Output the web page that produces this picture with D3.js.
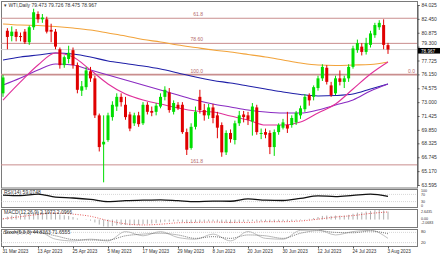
<!DOCTYPE html>
<html>
<head>
<meta charset="utf-8">
<script src="https://cdn.jsdelivr.net/npm/d3@7"></script>
<style>
  body { margin: 0; background: #fff; }
  svg { display: block; }
  text { font-family: "Liberation Sans", Arial, sans-serif; }
</style>
</head>
<body>
<svg id="chart"></svg>
<script>
// bars (trading days)
const dates = ["31 Mar","3 Apr","4 Apr","5 Apr","6 Apr","10 Apr","11 Apr","12 Apr","13 Apr","14 Apr",
  "17 Apr","18 Apr","19 Apr","20 Apr","21 Apr","24 Apr","25 Apr","26 Apr","27 Apr","28 Apr",
  "1 May","2 May","3 May","4 May","5 May","8 May","9 May","10 May","11 May","12 May",
  "15 May","16 May","17 May","18 May","19 May","22 May","23 May","24 May","25 May","26 May",
  "29 May","30 May","31 May","1 Jun","2 Jun","5 Jun","6 Jun","7 Jun","8 Jun","9 Jun",
  "12 Jun","13 Jun","14 Jun","15 Jun","16 Jun","19 Jun","20 Jun","21 Jun","22 Jun","23 Jun",
  "26 Jun","27 Jun","28 Jun","29 Jun","30 Jun","3 Jul","4 Jul","5 Jul","6 Jul","7 Jul",
  "10 Jul","11 Jul","12 Jul","13 Jul","14 Jul","17 Jul","18 Jul","19 Jul","20 Jul","21 Jul",
  "24 Jul","25 Jul","26 Jul","27 Jul","28 Jul","31 Jul","1 Aug","2 Aug","3 Aug"];

const open = [74.0,81.1,80.5,81.0,80.5,81.0,79.8,81.5,83.0,82.4,
  82.4,81.2,81.0,79.0,77.2,77.9,78.9,77.2,74.3,74.7,
  76.5,75.7,71.5,68.2,68.7,71.3,72.5,73.6,72.7,71.6,
  70.6,71.5,70.6,72.7,72.0,71.9,72.5,73.6,74.1,71.9,
  72.7,72.7,69.6,67.8,70.2,73.6,72.1,71.5,72.4,71.5,
  70.4,67.3,69.5,68.7,70.6,71.6,71.5,70.8,72.4,69.4,
  69.6,69.5,67.9,69.6,70.1,70.4,70.4,70.7,71.5,72.2,
  73.8,73.6,74.6,75.7,76.9,74.9,74.0,75.7,75.3,75.7,
  77.0,78.9,79.3,78.7,79.5,80.6,81.5,81.75,79.473];
const high = [76.1,81.4,81.6,81.3,80.9,81.3,81.7,83.6,83.3,83.0,
  82.7,81.9,81.3,79.2,78.3,79.4,79.2,77.5,75.4,77.0,
  77.0,76.0,71.7,71.5,71.8,73.1,74.0,74.0,73.6,71.9,
  71.8,71.9,73.0,73.0,72.5,72.9,74.0,74.8,74.6,73.2,
  73.0,73.0,70.0,70.6,72.5,74.4,72.8,72.8,72.8,71.9,
  70.7,69.8,69.9,70.9,72.0,72.0,71.9,72.9,72.7,70.0,
  70.0,69.8,69.9,70.6,71.1,71.9,71.5,72.0,72.6,73.9,
  74.0,74.9,76.0,77.3,77.2,75.3,76.0,76.6,76.0,77.3,
  79.4,80.1,79.7,80.3,81.1,82.0,82.3,82.4,79.726];
const low = [73.6,79.0,79.9,79.9,79.9,79.6,79.5,81.2,82.0,82.0,
  80.8,79.8,79.0,76.8,76.9,77.4,76.8,74.0,73.7,74.4,
  75.3,71.2,67.4,63.9,68.5,70.9,72.0,72.5,71.0,69.7,
  70.3,70.2,70.4,71.6,71.4,71.5,72.3,73.2,71.8,71.6,
  72.1,69.4,67.0,67.6,69.9,71.7,70.9,71.1,70.6,68.9,
  66.8,67.0,68.4,68.2,70.3,70.7,70.4,69.2,69.3,68.8,
  68.9,67.1,66.9,69.3,69.9,69.5,70.1,70.4,71.1,71.9,
  72.6,73.2,74.3,75.4,75.0,73.6,73.8,74.9,74.6,75.3,
  76.8,78.6,78.3,78.4,79.2,80.3,81.2,79.0,78.475];
const close = [75.8,80.4,81.0,80.4,80.4,79.8,81.5,83.2,82.4,82.6,
  81.0,81.0,79.3,77.2,78.1,78.6,77.2,74.4,74.8,76.6,
  75.7,71.5,67.9,68.5,71.5,72.7,73.6,73.0,71.3,70.0,
  71.5,70.5,72.7,71.9,71.8,72.6,73.6,74.4,72.1,72.9,
  72.3,69.6,67.6,70.2,71.9,72.1,71.5,72.4,71.2,70.1,
  67.3,69.5,68.8,70.6,71.5,71.3,71.0,72.5,69.6,69.5,
  69.3,67.9,69.6,70.4,70.7,70.0,71.2,71.8,72.3,73.6,
  73.2,74.7,75.7,77.0,75.3,73.8,75.7,75.3,75.7,77.0,
  79.1,79.7,78.7,79.7,80.8,81.75,82.0,79.5,78.967];

// moving averages, read every 4th bar
const maBars = [0,4,8,12,16,20,24,28,32,36,40,44,48,52,56,60,64,68,72,76,80,84,88];
const maOrange = [81.87,81.75,81.70,81.58,81.41,81.19,80.85,80.51,80.11,79.83,79.48,79.20,
  78.92,78.69,78.41,78.12,77.78,77.44,77.21,77.16,77.21,77.27,77.55];
const maBlue = [77.78,78.12,78.35,78.58,78.46,78.12,77.67,77.38,77.10,76.76,76.31,75.85,
  75.46,75.17,74.83,74.49,74.15,73.87,73.70,73.75,73.92,74.49,75.06];
const maPurple = [74.94,75.74,76.65,77.33,77.21,76.65,76.08,75.51,74.94,74.38,73.81,73.24,
  72.79,72.45,72.11,71.88,71.77,71.77,72.11,72.67,73.24,74.26,75.06];
const maPink = [73.24,75.29,77.21,78.58,78.12,76.65,75.06,73.92,73.24,72.79,72.33,71.99,
  71.88,71.42,70.97,70.40,70.40,70.74,71.77,72.79,74.49,76.19,77.55];

// fibonacci levels
const fibLevels = [
  { label: "61.8", price: 82.52 },
  { label: "78.60", price: 79.67 },
  { label: "100.0", price: 76.12 },
  { label: "161.8", price: 65.88 }
];
const fibZero = { label: "0.0", price: 76.10 };

const priceTicks = [84.025,82.450,80.875,79.300,77.725,76.150,74.575,73.000,71.425,69.850,68.325,66.745,65.170,63.595];
const lastPrice = 78.967;

const tickDates = ["31 Mar","13 Apr","25 Apr","5 May","17 May","29 May","8 Jun","20 Jun","30 Jun","12 Jul","24 Jul","3 Aug"];

// indicators, read every 4th bar
const rsi = [66,63,72,55,50,42,30,35,38,40,35,30,33,32,45,38,36,48,62,58,65,72,59];
const stochK = [85,80,85,40,30,40,30,85,60,85,50,40,70,30,85,45,40,92,94,65,85,92,45];
const stochD = [75,82,80,60,38,35,35,60,70,75,65,45,55,45,65,60,45,75,90,80,78,88,72];
const macdSignal = [0.2,0.8,1.4,1.8,1.5,0.9,-0.3,-1.2,-1.5,-1.3,-0.9,-0.8,-0.7,-0.8,-0.8,-0.6,-0.6,-0.4,0.1,0.7,1.1,1.7,2.1];
// macd main per bar
const macdMain = [0.3,0.8,1.1,1.3,1.5,1.5,1.7,2.0,2.1,2.2,
  2.1,2.0,1.8,1.4,1.2,1.0,0.7,0.3,0.0,-0.1,
  -0.3,-0.8,-1.4,-1.9,-2.0,-1.8,-1.6,-1.5,-1.5,-1.6,
  -1.5,-1.5,-1.3,-1.2,-1.1,-1.0,-0.8,-0.6,-0.6,-0.5,
  -0.5,-0.7,-1.0,-1.0,-0.8,-0.7,-0.6,-0.5,-0.5,-0.6,
  -0.9,-0.9,-1.0,-0.9,-0.7,-0.6,-0.5,-0.4,-0.5,-0.5,
  -0.6,-0.7,-0.7,-0.6,-0.5,-0.5,-0.4,-0.3,-0.2,0.1,
  0.2,0.4,0.7,1.0,1.1,1.0,1.1,1.1,1.1,1.3,
  1.6,1.9,2.0,2.2,2.4,2.6,2.64,2.5,2.2];

// layout
const width = 440;
const height = 254;
const plotLeft = 1;
const plotRight = 417;
const main = { top: 1, bottom: 187.5 };
const rsiBox = { top: 189, bottom: 207 };
const macdBox = { top: 209, bottom: 227 };
const stochBox = { top: 229, bottom: 246 };
const bull = '#00dd00';
const bear = '#e00000';
const fibColor = '#c98e8e';
const fs = 5;
const fsSmall = 3.6;

const svg = d3.select('#chart').attr('width', width).attr('height', height);

const x = d3.scalePoint().domain(dates).range([3, 388]);
const y = d3.scaleLinear().domain([63.595, 84.025]).range([185, 5]);

// panel frames
[main, rsiBox, macdBox, stochBox].forEach(b => {
  svg.append('rect')
    .attr('x', plotLeft + 0.5).attr('y', b.top + 0.5)
    .attr('width', plotRight - plotLeft).attr('height', b.bottom - b.top)
    .attr('fill', 'none').attr('stroke', '#7a7a7a').attr('stroke-width', 1);
});

// current price line
svg.append('line')
  .attr('x1', plotLeft).attr('x2', plotRight)
  .attr('y1', y(lastPrice)).attr('y2', y(lastPrice))
  .attr('stroke', '#cfcfcf').attr('stroke-width', 1);

// fibo lines
fibLevels.forEach(f => {
  svg.append('line')
    .attr('x1', plotLeft).attr('x2', plotRight)
    .attr('y1', y(f.price)).attr('y2', y(f.price))
    .attr('stroke', fibColor).attr('stroke-width', f.label === '100.0' ? 1.6 : 1);
  svg.append('text')
    .attr('x', 203).attr('y', y(f.price) - 2)
    .attr('text-anchor', 'end')
    .attr('font-size', fs).attr('fill', '#b56b6b')
    .text(f.label);
});
svg.append('text')
  .attr('x', 415).attr('y', y(fibZero.price) - 2)
  .attr('text-anchor', 'end')
  .attr('font-size', fs).attr('fill', '#b56b6b')
  .text(fibZero.label);

// moving averages
const maLine = d3.line()
  .x((d, i) => x(dates[maBars[i]]))
  .y(d => y(d))
  .curve(d3.curveMonotoneX);
[[maOrange, '#f2a33a'], [maBlue, '#1f1fa8'], [maPurple, '#8a2bc2'], [maPink, '#e0309a']].forEach(([vals, col]) => {
  svg.append('path')
    .attr('d', maLine(vals))
    .attr('fill', 'none').attr('stroke', col).attr('stroke-width', 1.1);
});

// candles
const bars = dates.map((d, i) => ({ d, o: open[i], h: high[i], l: low[i], c: close[i] }));
const candle = svg.append('g').selectAll('g').data(bars).enter().append('g');
candle.append('line')
  .attr('x1', d => x(d.d)).attr('x2', d => x(d.d))
  .attr('y1', d => y(d.h)).attr('y2', d => y(d.l))
  .attr('stroke', d => d.c >= d.o ? bull : bear).attr('stroke-width', 1);
candle.append('rect')
  .attr('x', d => x(d.d) - 1.5).attr('width', 3)
  .attr('y', d => y(Math.max(d.o, d.c)))
  .attr('height', d => Math.max(1, Math.abs(y(d.o) - y(d.c))))
  .attr('fill', d => d.c >= d.o ? bull : bear);

// price axis
const yAxis = d3.axisRight(y).tickValues(priceTicks).tickSize(2).tickFormat(d3.format('.3f'));
const ga = svg.append('g').attr('transform', `translate(${plotRight + 0.5},0)`).call(yAxis);
ga.select('.domain').attr('stroke', '#555');
ga.selectAll('line').attr('stroke', '#555');
ga.selectAll('text').attr('font-size', fs).attr('fill', '#333').attr('x', 4)
  .attr('dy', d => d === 79.3 ? '-0.35em' : '0.32em');

// last price box
svg.append('rect').attr('x', 418).attr('y', y(lastPrice) - 1.6).attr('width', 22).attr('height', 5.6).attr('fill', '#000');
svg.append('text').attr('x', 421).attr('y', y(lastPrice) + 3).attr('font-size', 4.6).attr('fill', '#fff').text(lastPrice.toFixed(3));

// header
svg.append('text').attr('x', 4).attr('y', 6.5).attr('font-size', fs).attr('fill', '#333')
  .text('\u25BE WTI,Daily  79.473 79.726 78.475 78.967');

// RSI
const yRsi = d3.scaleLinear().domain([0, 100]).range([rsiBox.bottom, rsiBox.top]);
const indLine = (sc) => d3.line().x((d, i) => x(dates[maBars[i]])).y(d => sc(d)).curve(d3.curveMonotoneX);
[30, 70].forEach(v => {
  svg.append('line').attr('x1', plotLeft).attr('x2', plotRight)
    .attr('y1', yRsi(v)).attr('y2', yRsi(v))
    .attr('stroke', '#bbb').attr('stroke-width', 0.6).attr('stroke-dasharray', '1,1');
});
svg.append('path').attr('d', indLine(yRsi)(rsi)).attr('fill', 'none').attr('stroke', '#111').attr('stroke-width', 1.3);
svg.append('text').attr('x', 4).attr('y', rsiBox.top + 5).attr('font-size', fs).attr('fill', '#333').text('RSI(14) 59.0748');
[['100', rsiBox.top + 3], ['70', rsiBox.top + 6.6], ['30', rsiBox.bottom - 3.8], ['0', rsiBox.bottom - 0.2]].forEach(([t, yy]) => {
  svg.append('text').attr('x', 421).attr('y', yy).attr('font-size', fsSmall).attr('fill', '#333').text(t);
});

// MACD
const yMacd = d3.scaleLinear().domain([-2.0683, 2.6435]).range([macdBox.bottom, macdBox.top + 1]);
svg.append('g').selectAll('line').data(macdMain).enter().append('line')
  .attr('x1', (d, i) => x(dates[i])).attr('x2', (d, i) => x(dates[i]))
  .attr('y1', yMacd(0)).attr('y2', d => yMacd(d))
  .attr('stroke', '#9a9a9a').attr('stroke-width', 0.8);
svg.append('path').attr('d', indLine(yMacd)(macdSignal)).attr('fill', 'none')
  .attr('stroke', '#e03030').attr('stroke-width', 0.8).attr('stroke-dasharray', '1,1.5');
svg.append('text').attr('x', 4).attr('y', macdBox.top + 5).attr('font-size', fs).attr('fill', '#333').text('MACD(12,26,9) 2.1972 2.0966');
[['2.6435', macdBox.top + 4], ['0.00', yMacd(0) + 0.6], ['-2.0683', yMacd(0) + 4.4]].forEach(([t, yy]) => {
  svg.append('text').attr('x', 421).attr('y', yy).attr('font-size', fsSmall).attr('fill', '#333').text(t);
});

// Stochastic
const ySto = d3.scaleLinear().domain([0, 100]).range([stochBox.bottom, stochBox.top]);
[20, 80].forEach(v => {
  svg.append('line').attr('x1', plotLeft).attr('x2', plotRight)
    .attr('y1', ySto(v)).attr('y2', ySto(v))
    .attr('stroke', '#bbb').attr('stroke-width', 0.6).attr('stroke-dasharray', '1,1');
});
svg.append('path').attr('d', indLine(ySto)(stochK)).attr('fill', 'none').attr('stroke', '#b8b8b8').attr('stroke-width', 0.9);
svg.append('path').attr('d', indLine(ySto)(stochD)).attr('fill', 'none').attr('stroke', '#555').attr('stroke-width', 0.8).attr('stroke-dasharray', '1,1');
svg.append('text').attr('x', 4).attr('y', stochBox.top + 5).attr('font-size', fs).attr('fill', '#333').text('Stoch(5,3,3) 44.8363 71.6555');
[['80', stochBox.top + 4], ['20', stochBox.bottom - 2]].forEach(([t, yy]) => {
  svg.append('text').attr('x', 421).attr('y', yy).attr('font-size', 4.2).attr('fill', '#333').text(t);
});

// date axis
const xAxis = d3.axisBottom(x).tickValues(tickDates).tickSize(2).tickFormat(d => d + ' 2023');
const gx = svg.append('g').attr('transform', `translate(0,${stochBox.bottom + 0.5})`).call(xAxis);
gx.select('.domain').remove();
gx.selectAll('line').attr('stroke', '#555');
gx.selectAll('text').attr('font-size', 4.6).attr('fill', '#333').attr('text-anchor', 'start').attr('dx', -1).attr('y', 3);
</script>
</body>
</html>
